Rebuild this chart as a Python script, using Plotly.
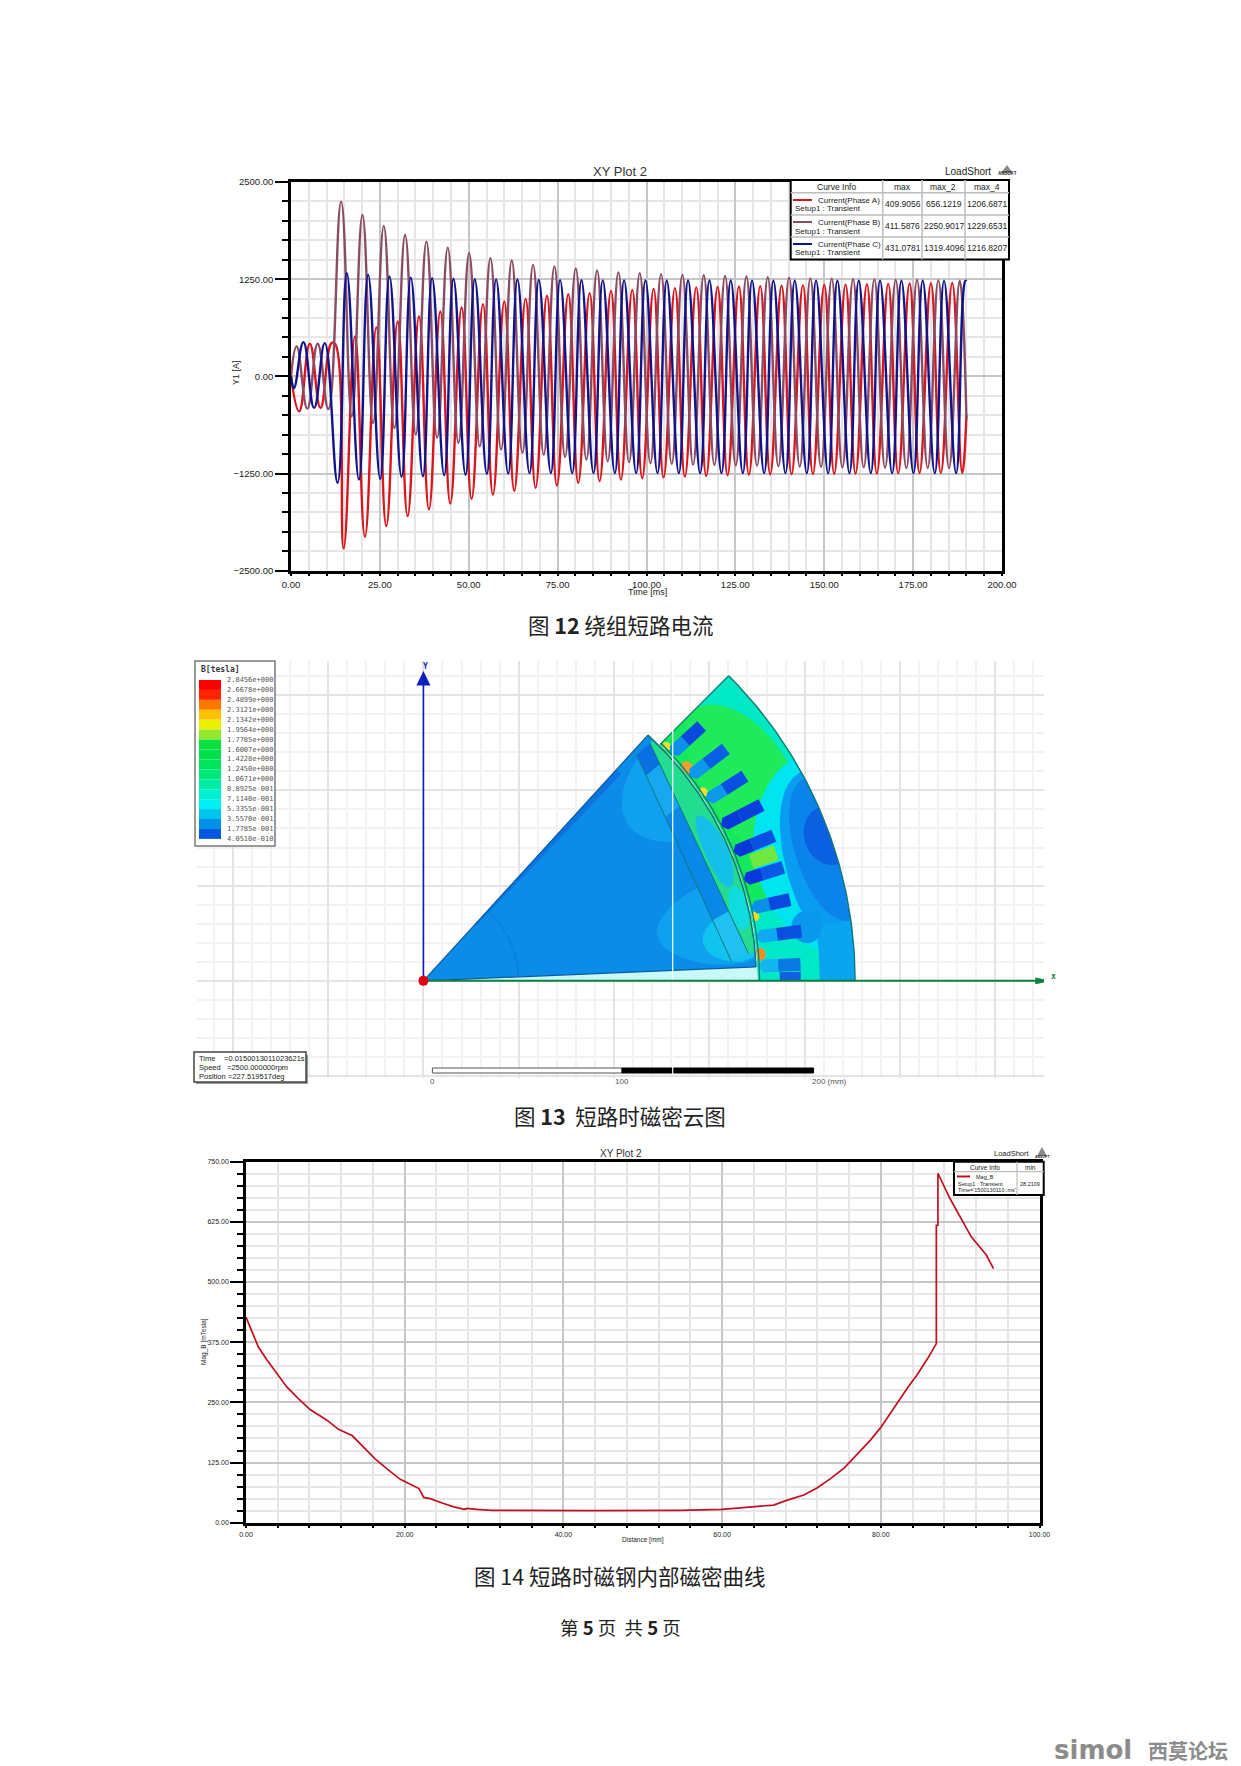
import numpy as np
import plotly.graph_objects as go

W, H = 1241, 1766
SANS = "Liberation Sans"
CJK = "Noto Sans CJK SC"
MONO = "DejaVu Sans Mono"

# ---------------- Figure 12: winding short-circuit current ----------------
phase_a_t = [0,2.3,5.3,8.3,11.4,12.4,14.8,18,20.8,24,26.8,30,32.8,36,38.8,42,44.8,48,50.8,54,56.8,60,62.8,66,68.8,72,74.8,78,80.8,84,86.8,90,92.8,96,98.8,102,104.8,108,110.8,114,116.8,120,122.8,126,128.8,132,134.8,138,140.8,144,146.8,150,152.8,156,158.8,162,164.8,168,170.8,174,176.8,180,182.8,186,188.8,190]
phase_a_i = [0,-450,420,-406,428,420,-2213,514,-2063,630,-1926,706,-1798,770,-1712,835,-1635,886,-1575,929,-1520,963,-1473,997,-1434,1036,-1404,1057,-1370,1070,-1348,1100,-1327,1113,-1310,1125,-1300,1135,-1290,1145,-1280,1150,-1272,1155,-1265,1160,-1260,1165,-1258,1170,-1255,1175,-1252,1180,-1250,1185,-1248,1190,-1245,1195,-1243,1198,-1240,1200,-1240,-500]
phase_b_t = [0,1.6,4.6,7.5,10.5,14.1,17.1,20.1,23.1,26.1,29.1,32.1,35.1,38.1,41.1,44.1,47.1,50.1,53.1,56.1,59.1,62.1,65.1,68.1,71.1,74.1,77.1,80.1,83.1,86.1,89.1,92.1,95.1,98.1,101.1,104.1,107.1,110.1,113.1,116.1,119.1,122.1,125.1,128.1,131.1,134.1,137.1,140.1,143.1,146.1,149.1,152.1,155.1,158.1,161.1,164.1,167.1,170.1,173.1,176.1,179.1,182.1,185.1,188.1,190]
phase_b_i = [0,385,-415,420,-420,2247,-514,2076,-600,1935,-665,1819,-750,1733,-790,1656,-856,1584,-900,1520,-942,1490,-985,1434,-1006,1413,-1036,1387,-1070,1361,-1092,1335,-1104,1327,-1118,1315,-1125,1305,-1135,1300,-1140,1290,-1145,1285,-1150,1275,-1155,1270,-1160,1260,-1165,1255,-1170,1250,-1170,1245,-1175,1240,-1180,1240,-1180,1235,-1180,1230,-550]
phase_c_t = [0,0.85,3.5,6.5,9.5,13.1,15.7,19.1,21.7,25.1,27.7,31.1,33.7,37.1,39.7,43.1,45.7,49.1,51.7,55.1,57.7,61.1,63.7,67.1,69.7,73.1,75.7,79.1,81.7,85.1,87.7,91.1,93.7,97.1,99.7,103.1,105.7,109.1,111.7,115.1,117.7,121.1,123.7,127.1,129.7,133.1,135.7,139.1,141.7,145.1,147.7,151.1,153.7,157.1,159.7,163.1,165.7,169.1,171.7,175.1,177.7,181.1,183.7,187.1,189.7,190]
phase_c_i = [0,-150,440,-406,428,-1370,1327,-1327,1305,-1318,1284,-1293,1270,-1285,1262,-1272,1255,-1265,1250,-1255,1248,-1250,1245,-1245,1240,-1245,1238,-1245,1236,-1245,1235,-1245,1235,-1245,1235,-1245,1232,-1245,1232,-1245,1232,-1245,1232,-1245,1230,-1245,1230,-1245,1230,-1245,1230,-1245,1230,-1245,1230,-1245,1230,-1245,1230,-1245,1230,-1245,1228,-1245,1228,1225]
table1_header = ["Curve Info", "max", "max_2", "max_4"]
table1_names = ["Current(Phase A)", "Current(Phase B)", "Current(Phase C)"]
table1_setup = "Setup1 : Transient"
table1_rows = [["409.9056", "656.1219", "1206.6871"],
               ["411.5876", "2250.9017", "1229.6531"],
               ["431.0781", "1319.4096", "1216.8207"]]
phase_colors = ["#d8161e", "#8a4c64", "#10148c"]

# ---------------- Figure 14: magnet flux density along distance -----------
dist_mm = [0,0.7,1.56,2.6,3.87,5.14,6.6,8.08,10.2,11.66,13.4,14.8,16.3,18.2,19.45,20.7,21.8,22.4,23.2,24.9,26.2,27.5,27.9,29.1,31,43.5,54.7,60,62.3,66.5,68.2,70.3,72,73.7,75.4,77,78.7,80,81.7,83.4,84.6,85.9,87,87,87.2,87.2,88.7,90.2,91.4,93.3,94.2]
mag_b = [427,400,365,339,310,282,258,235,213,194,180.5,158,132,106,90,80,71,52.5,50,40,33,27.7,29.7,27.7,25.6,25,25.6,27.7,31,36.7,47,57.4,72.6,92,114,142,171.5,198,240.7,281,308,341,372,618,618,726,674,629,594,556,528]

# ---------------- Figure 13: field plot, legend and zones (mm / deg) ------
b_labels = ["2.8456e+000","2.6678e+000","2.4899e+000","2.3121e+000","2.1342e+000","1.9564e+000","1.7785e+000","1.6007e+000","1.4228e+000","1.2450e+000","1.0671e+000","8.8925e-001","7.1140e-001","5.3355e-001","3.5570e-001","1.7785e-001","4.0510e-010"]
b_colors = ["#ff0000","#ff2400","#ff7800","#ffc000","#e8f000","#94e82c","#08e040","#00e048","#00e45c","#00e878","#00eca4","#00f0d0","#00f0f4","#00c4f0","#0090e8","#0058e0"]
R_OUT, R_IN, R_ROT = 226.5, 175.4, 174.7
ROT_T0, ROT_T1 = 2.4, 47.6
stator_sectors = [(R_IN,R_OUT,0,45,"#00e8c4"),(R_IN,198,13,45,"#14e85c"),(R_IN,205,0,13,"#00e8c8")]
stator_blobs = [(200,32,23,13,"#1eea5c"),(226,17,42,14,"#00e4f0"),(226,16,27,13,"#0a9cf0"),
                (226,18,20,10,"#0a84ea"),(226,19.7,13,4,"#0a60e0")]
stator_sectors2 = [(208,R_OUT,0,8,"#0aa4f0"),(183,197,18.8,21.2,"#70e840"),(187,198,0,1.4,"#1060e0")]
stator_spots = [(203,8,8,2.4,"#0a98ec"),(177.5,4.5,2.5,1.1,"#ff8c20"),(177.5,11,2,0.8,"#e8e020"),
                (178,39,3,1.1,"#f0a030"),(177.5,34,2,0.8,"#f0e030"),(177.5,44,2,0.8,"#e8e030")]
slot_angles = [2.5,7.5,12.5,17.5,22.5,27.5,32.5,37.5,42.5]
slot_r1 = [198,200,197,198,199,200,200,200,198]
slot_in = ["#14b4f0","#12a8f0","#0a90ea","#0838dc","#0838dc","#0838dc","#0e98ec","#0e98ec","#0e90ea"]
slot_out = ["#0a78e2","#0a50e0","#0a48e0","#0a58e4","#0a50e2","#0a40de","#0a50e0","#0a60e4","#0a48e0"]
rotor_base = "#0a8ce8"
rotor_blobs = [(165,37,30,9,"#10a0f0"),(160,11,35,8,"#10a0f0"),(165,8,17,4.5,"#10c4f0")]
rotor_edge = [(40,150,46.3,47.6,"#0a74e0")]
cap_blobs = [(168,24,6,7,"#14c0e8"),(170,13,5,4,"#10dce0")]
strip_left = [(111.9,118.6),(161.7,10.1)]
strip_right = [(118.9,124.7),(170.5,14.5)]
strip_parts = [(0,0.1,"#0a70e0"),(0.1,0.3,"#18a8f0"),(0.3,0.8,"#0a88e8"),(0.8,1,"#20c0f0")]

# ---------------- page layout helpers --------------------------------------
def px(x): return x / W
def py(y): return 1 - y / H

fig = go.Figure()
shapes, notes = [], []

def T(x, y, s, size, color="#222", anchor="center", family=SANS, angle=0):
    notes.append(dict(x=px(x), y=py(y), xref="paper", yref="paper", text=s, showarrow=False,
                      xanchor=anchor, yanchor="middle", textangle=angle, borderpad=0,
                      font=dict(size=size, color=color, family=family)))

def RECT(x0, y0, x1, y1, fill=None, line=None, w=1):
    shapes.append(dict(type="rect", xref="paper", yref="paper", x0=px(x0), x1=px(x1), y0=py(y0), y1=py(y1),
                       fillcolor=fill if fill else "rgba(0,0,0,0)",
                       line=dict(color=line if line else "rgba(0,0,0,0)", width=w if line else 0), layer="above"))

def LINE(x0, y0, x1, y1, color, w=1):
    shapes.append(dict(type="line", xref="paper", yref="paper", x0=px(x0), x1=px(x1), y0=py(y0), y1=py(y1),
                       line=dict(color=color, width=w), layer="above"))

def LOGO(cx, top, base, half, size):
    shapes.append(dict(type="path", xref="paper", yref="paper", layer="above", fillcolor="#8a8a8a", line=dict(width=0),
                       path=f"M {px(cx)} {py(top)} L {px(cx-half)} {py(base)} L {px(cx+half)} {py(base)} Z"))
    T(cx, base + 1, "<b>ANSOFT</b>", size, "#222")

def xy_axes(x0, x1, y0, y1, xr, xd, xm, yr, yd, ym, tick, ylen, ymin, xlen):
    grid = dict(showgrid=True, gridcolor="#c6c6c6", gridwidth=2, showline=True, linecolor="black", linewidth=2.5,
                mirror=True, ticks="outside", tickcolor="black", tickformat=".2f", zeroline=False, automargin=False,
                tickfont=dict(size=tick, family=SANS, color="#222"))
    xa = dict(grid, domain=[px(x0), px(x1)], range=xr, tick0=0, dtick=xd, ticklen=xlen, tickwidth=2,
              minor=dict(dtick=xm, ticks="outside", ticklen=xlen, tickwidth=2, tickcolor="black",
                         showgrid=True, gridcolor="#e6e6e6", gridwidth=2))
    ya = dict(grid, domain=[py(y1), py(y0)], range=yr, tick0=0, dtick=yd, ticklen=ylen, tickwidth=2,
              minor=dict(dtick=ym, ticks="outside", ticklen=ymin, tickwidth=2, tickcolor="black",
                         showgrid=True, gridcolor="#e6e6e6", gridwidth=2))
    return xa, ya

# ---------------- Figure 12 traces -----------------------------------------
for t, i, c in zip([phase_a_t, phase_b_t, phase_c_t], [phase_a_i, phase_b_i, phase_c_i], phase_colors):
    fig.add_trace(go.Scatter(x=t, y=i, mode="lines", line=dict(color=c, width=2.4, shape="spline", smoothing=1.3),
                             xaxis="x", yaxis="y", hoverinfo="skip", showlegend=False))
xa1, ya1 = xy_axes(291, 1002, 182, 570.7, [0, 200], 25, 5, [-2500, 2500], 1250, 250, 9.5, 13, 6, 3)
T(620, 171, "XY Plot 2", 13, "#333")
T(968, 171, "LoadShort", 10, "#222")
LOGO(1007, 165, 173, 6, 4.5)
T(236, 373, "Y1 [A]", 9, "#222", angle=-90)
T(647, 592, "Time [ms]", 9, "#222")
# legend table of figure 12
RECT(790.7, 180, 1009, 259.5, "white", "black", 2)
col_x = [882.7, 922, 965]
for c in col_x:
    LINE(c, 180, c, 259.5, "#bdbdbd", 1.5)
for r in [192.7, 215, 237]:
    LINE(790.7, r, 1009, r, "#bdbdbd", 1.5)
T(836, 187, table1_header[0], 8.5)
T(902, 187, table1_header[1], 8.5)
T(943, 187, table1_header[2], 8.5)
T(987, 187, table1_header[3], 8.5)
for k in range(3):
    ry = 200 + 22 * k
    LINE(793, ry, 812, ry, phase_colors[k], 2)
    T(817, ry, table1_names[k], 8, anchor="left")
    T(794, ry + 9, table1_setup, 8, anchor="left")
    for cx, v in zip([902.5, 943.5, 987], table1_rows[k]):
        T(cx, ry + 4, v, 8.5)

# ---------------- Figure 13 geometry ---------------------------------------
def pol(r, t):
    a = np.deg2rad(t)
    return r * np.cos(a), r * np.sin(a)

def poly(x, y, color, xa="x2", ya="y2"):
    fig.add_trace(go.Scatter(x=list(x), y=list(y), mode="lines", fill="toself", fillcolor=color,
                             line=dict(width=0, color=color), xaxis=xa, yaxis=ya, hoverinfo="skip", showlegend=False))

def stroke(x, y, color, w=1.2):
    fig.add_trace(go.Scatter(x=list(x), y=list(y), mode="lines", line=dict(color=color, width=w),
                             xaxis="x2", yaxis="y2", hoverinfo="skip", showlegend=False))

def sector(r0, r1, t0, t1, color):
    a = np.linspace(t0, t1, 60)
    xo, yo = pol(r1, a)
    xi, yi = pol(r0, a[::-1])
    poly(np.r_[xo, xi], np.r_[yo, yi], color)

def blob(rc, tc, dr, dt, color, rmin, rmax, tmin, tmax):
    a = np.linspace(0, 2 * np.pi, 80)
    r = np.clip(rc + dr * np.cos(a), rmin, rmax)
    t = np.clip(tc + dt * np.sin(a), tmin, tmax)
    x, y = pol(r, t)
    poly(x, y, color)

def arc(r, t0, t1, color, w=1.2):
    x, y = pol(r, np.linspace(t0, t1, 80))
    stroke(x, y, color, w)

def mix(p, q, f):
    return (p[0] + (q[0] - p[0]) * f, p[1] + (q[1] - p[1]) * f)

TEAL = "#107878"
for s in stator_sectors:
    sector(*s)
for b in stator_blobs:
    blob(*b, R_IN, R_OUT, 0, 45)
for s in stator_sectors2:
    sector(*s)
for b in stator_spots:
    blob(*b, R_IN, R_OUT, 0, 45)

for ang, r1, ci, co in zip(slot_angles, slot_r1, slot_in, slot_out):
    a = np.deg2rad(ang)
    ux, uy, vx, vy = np.cos(a), np.sin(a), -np.sin(a), np.cos(a)
    def slot_part(r_a, r_b, col, tip=False):
        hw = 3.4
        if tip:
            pts = [(r_a - 2.5, 0), (r_a, hw), (r_b, hw), (r_b, -hw), (r_a, -hw)]
        else:
            pts = [(r_a, hw), (r_b, hw), (r_b, -hw), (r_a, -hw)]
        poly([p * ux + q * vx for p, q in pts], [p * uy + q * vy for p, q in pts], col)
    rm = 178.5 + (r1 - 178.5) * 0.4
    slot_part(178.5, rm, ci, tip=True)
    slot_part(rm, r1, co)

# rotor
t = np.linspace(ROT_T0, ROT_T1, 90)
xr, yr = pol(R_ROT, t)
poly(np.r_[0, xr], np.r_[0, yr], rotor_base)
for b in rotor_blobs:
    blob(*b, 0, R_ROT, ROT_T0, ROT_T1)
for s in rotor_edge:
    sector(*s)
# pole cap between the magnet strip and the rotor rim
t_cap = np.linspace(4.9, ROT_T1 - 1.2, 70)
xc, yc = pol(R_ROT, t_cap)
poly(np.r_[xc, strip_right[0][0], strip_right[1][0]], np.r_[yc, strip_right[0][1], strip_right[1][1]], "#22dc90")
for b in cap_blobs:
    blob(*b, 150, R_ROT, ROT_T0, ROT_T1)
# magnet strip
for f0, f1, col in strip_parts:
    a0, a1 = mix(strip_left[0], strip_left[1], f0), mix(strip_left[0], strip_left[1], f1)
    b0, b1 = mix(strip_right[0], strip_right[1], f0), mix(strip_right[0], strip_right[1], f1)
    poly([a0[0], a1[0], b1[0], b0[0]], [a0[1], a1[1], b1[1], b0[1]], col)
stroke([p[0] for p in strip_left], [p[1] for p in strip_left], TEAL, 1)
stroke([p[0] for p in strip_right], [p[1] for p in strip_right], TEAL, 1)
# pale air-gap wedge under the rotor
xw, yw = pol(R_ROT, np.array([0, ROT_T0]))
poly([0, xw[0] + 0.5, xw[1] + 0.5], [0, yw[0], yw[1]], "#c8f8f8")
# outlines
arc(R_ROT, ROT_T0, ROT_T1, TEAL, 1.6)
arc(R_IN + 1, 0, 45, TEAL, 1.3)
arc(R_OUT, 0, 45, TEAL, 1.4)
arc(50, ROT_T0, 46, "#0a78d8", 1)
xa_, ya_ = pol(R_ROT, ROT_T1)
stroke([0, xa_], [0, ya_], "#0a5c9c", 1.2)
xb_, yb_ = pol(R_ROT, ROT_T0)
stroke([0, xb_], [0, yb_], "#0a5c9c", 1.2)
x45i, y45i = pol(R_IN, 45)
x45o, y45o = pol(R_OUT, 45)
stroke([x45i, x45o], [y45i, y45o], TEAL, 1.2)
# white cut line and the coordinate axes
stroke([130.8, 130.8], [-49, 166], "#ffffff", 1.2)
stroke([0, 0], [0, 156], "#1020c0", 1.6)
poly([-3.7, 3.7, 0], [155, 155, 162.6], "#1020c0")
stroke([0, 322], [0, 0], "#108040", 2)
poly([321, 321, 330], [-1.8, 1.8, 0], "#108040")
fig.add_trace(go.Scatter(x=[0], y=[0], mode="markers", marker=dict(color="#e00010", size=10),
                         xaxis="x2", yaxis="y2", hoverinfo="skip", showlegend=False))
T(425, 666, "<b>Y</b>", 8, "#1020c0", family=MONO)
T(1053, 976, "<b>x</b>", 8, "#108040", family=MONO)

xa2 = dict(domain=[px(197), px(1044)], range=[-118.8, 325.6], tick0=0, dtick=50, showgrid=True, gridcolor="#e4e4e4", gridwidth=1.5,
           minor=dict(dtick=10, showgrid=True, gridcolor="#f2f2f2", gridwidth=1.5), zeroline=False, showticklabels=False, ticks="", showline=False, automargin=False)
ya2 = dict(domain=[py(1078), py(661)], range=[-51, 167.9], tick0=0, dtick=50, showgrid=True, gridcolor="#e4e4e4", gridwidth=1.5,
           minor=dict(dtick=10, showgrid=True, gridcolor="#f2f2f2", gridwidth=1.5), zeroline=False, showticklabels=False, ticks="", showline=False, automargin=False)

# field legend
RECT(195, 661, 275, 846, "white", "#7a7a7a", 1.5)
T(200, 669.5, "<b>B[tesla]</b>", 8, "#333", anchor="left", family=MONO)
for k, c in enumerate(b_colors):
    RECT(199, 680 + 9.93 * k, 221, 680 + 9.93 * (k + 1), c)
for k, s in enumerate(b_labels):
    T(226, 680 + 9.93 * k, s, 7, "#555", anchor="left", family=MONO)

# time box and scale bar
RECT(196, 1055, 308, 1084, "#9a9a9a")
RECT(194, 1052, 306, 1082, "white", "#444", 1.5)
for yy, lab, val, vx in [(1058, "Time", "=0.0150013011023621s", 223), (1067, "Speed", "=2500.000000rpm", 226),
                         (1076, "Position", "=227.519517deg", 227)]:
    T(198, yy, lab, 7.5, "#222", anchor="left")
    T(vx, yy, val, 7.5, "#222", anchor="left")
RECT(432.4, 1068, 622, 1073, "white", "#555", 1)
RECT(622, 1068, 813.6, 1073, "black", "black", 1)
LINE(672.7, 1066, 672.7, 1075, "white", 1.2)
T(432.4, 1081, "0", 8, "#555")
T(622, 1081, "100", 8, "#555")
T(829, 1081, "200 (mm)", 8, "#555")

# ---------------- Figure 14 trace ------------------------------------------
fig.add_trace(go.Scatter(x=dist_mm, y=mag_b, mode="lines", line=dict(color="#c0101f", width=1.7),
                         xaxis="x3", yaxis="y3", hoverinfo="skip", showlegend=False))
xa3, ya3 = xy_axes(246, 1039.5, 1161.7, 1522.7, [0, 100], 20, 4, [0, 750], 125, 25, 7, 13, 6, 3)
T(621, 1153, "XY Plot 2", 10, "#333")
T(1012, 1153, "LoadShort", 7.5, "#222")
LOGO(1042, 1147, 1156, 5, 3.5)
T(204, 1342, "Mag_B [mTesla]", 6.5, "#222", angle=-90)
T(643, 1540, "Distance [mm]", 6.5, "#222")
RECT(954, 1161.7, 1043.7, 1195, "white", "black", 2)
LINE(1017, 1161.7, 1017, 1195, "#bdbdbd", 1.2)
LINE(954, 1171.7, 1043.7, 1171.7, "#bdbdbd", 1.2)
T(985, 1167, "Curve Info", 6.5)
T(1030, 1167, "min", 6.5)
LINE(957, 1176.5, 970, 1176.5, "#c0101f", 2)
T(975, 1177, "Mag_B", 5.5, anchor="left")
T(957, 1184, "Setup1 : Transient", 5.5, anchor="left")
T(957, 1190, "Time='1500130110..ms'", 5.5, anchor="left")
T(1030, 1184, "28.2109", 5.5)

# ---------------- captions and page text -----------------------------------
T(621, 625, "图 <b>12</b> 绕组短路电流", 21.5, "#222", family=CJK)
T(620, 1115, "图 <b>13</b>  短路时磁密云图", 21.5, "#222", family=CJK)
T(620, 1575, "图 14 短路时磁钢内部磁密曲线", 21.5, "#222", family=CJK)
T(620, 1627, "第 <b>5</b> 页  共 <b>5</b> 页", 18.5, "#222", family=CJK)
T(1053, 1750, "<b>simol</b>", 26, "#8c8c8c", anchor="left", family="DejaVu Sans")
T(1147, 1750, "<b>西莫论坛</b>", 20, "#8c8c8c", anchor="left", family=CJK)

fig.update_layout(width=W, height=H, autosize=False, margin=dict(l=0, r=0, t=0, b=0, autoexpand=False), paper_bgcolor="white", plot_bgcolor="white",
                  showlegend=False, shapes=shapes, annotations=notes,
                  xaxis=dict(xa1, anchor="y"), yaxis=dict(ya1, anchor="x"),
                  xaxis2=dict(xa2, anchor="y2"), yaxis2=dict(ya2, anchor="x2"),
                  xaxis3=dict(xa3, anchor="y3"), yaxis3=dict(ya3, anchor="x3"))
fig.write_html("out.html", config={"displayModeBar": False},
               post_script="document.body.style.margin='0';document.body.style.overflow='hidden';")
